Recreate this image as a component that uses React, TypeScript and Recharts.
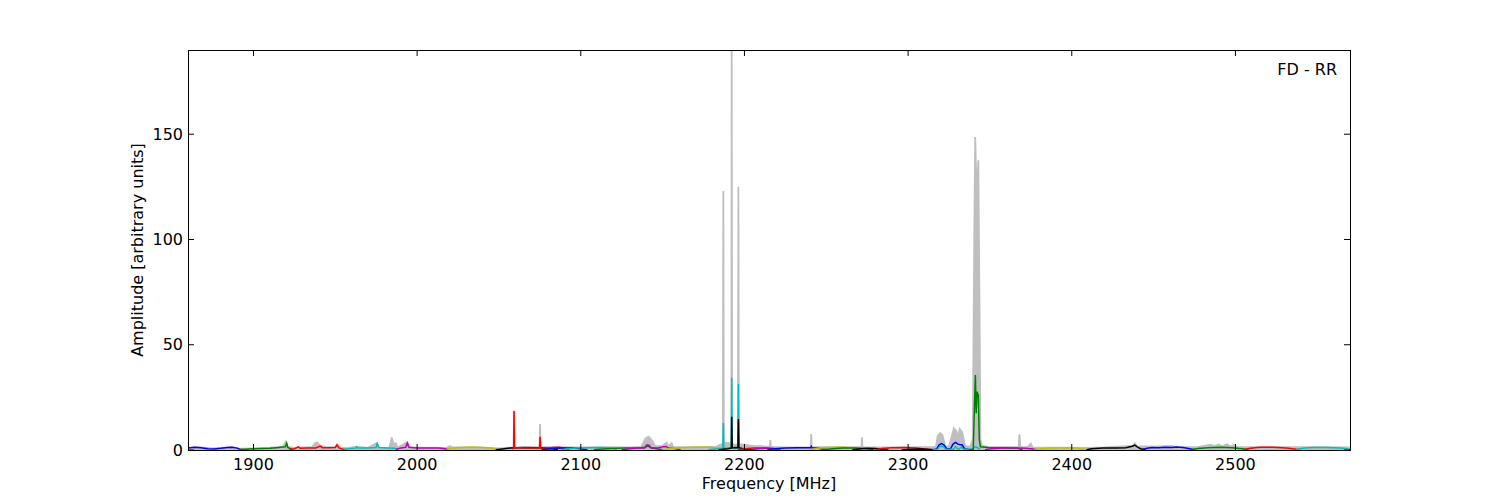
import { Area, ComposedChart, Line, XAxis, YAxis } from "recharts";

type Pt = [number, number];

// x ticks / y ticks
const X_TICKS = [1900, 2000, 2100, 2200, 2300, 2400, 2500];
const Y_TICKS = [0, 50, 100, 150];

// max-hold envelope (grey)
const envelope: Pt[] = [
  [1860, 1.0], [1866, 1.3], [1875, 0.8], [1886, 1.4], [1892, 0.6], [1900, 0.8], [1910, 1.1],
  [1918, 1.6], [1919.8, 4.0], [1921, 1.5], [1925, 1.0], [1930, 1.2], [1936, 1.5], [1937.5, 3.2],
  [1939, 3.6], [1940.5, 2.2], [1945, 1.3], [1950, 1.5], [1951.3, 2.6], [1953, 1.2], [1957, 0.9],
  [1963, 1.6], [1970, 1.0], [1975.5, 3.3], [1977, 1.1], [1983, 1.0], [1984.5, 6.0], [1985.5, 3.0],
  [1987, 3.2], [1988, 1.0], [1994, 3.8], [1995.5, 1.2], [2005, 1.1], [2018, 1.0], [2020, 1.8],
  [2022, 1.2], [2035, 1.3], [2050, 0.8], [2058.9, 1.2], [2059.2, 18.8], [2059.6, 1.4], [2070, 1.2],
  [2074.7, 1.3], [2075.1, 12.3], [2075.6, 1.3], [2085, 1.4], [2100, 1.2], [2115, 1.3], [2130, 1.2],
  [2137, 1.5], [2139.5, 5.5], [2141.5, 6.3], [2143.5, 4.5], [2145.5, 1.8], [2150, 2.0], [2152.5, 3.5],
  [2153.5, 1.8], [2155.5, 3.2], [2156.5, 1.5], [2170, 1.3], [2183, 1.6], [2185, 2.5], [2186.8, 2.8],
  [2187.1, 123], [2187.4, 3.0], [2189.5, 3.5], [2192.0, 3.0], [2192.2, 200], [2192.5, 3.0],
  [2194, 2.5], [2196.0, 2.6], [2196.3, 125], [2196.6, 2.8], [2199, 2.5], [2205, 2.0], [2210, 1.8],
  [2215.5, 1.5], [2215.8, 4.7], [2216.1, 1.5], [2225, 1.2], [2240.5, 1.3], [2240.8, 7.6], [2241.1, 1.3],
  [2255, 1.3], [2271.5, 1.3], [2271.8, 6.0], [2272.1, 1.3], [2290, 1.2], [2311, 1.4], [2317, 1.5],
  [2318, 6.5], [2319.5, 8.0], [2321, 7.0], [2322.6, 1.8], [2325, 1.5], [2326.5, 6.0], [2328, 10.4],
  [2329.5, 9.0], [2330.5, 6.0], [2331.5, 10.0], [2333, 8.5], [2334.8, 2.0], [2338, 1.5],
  [2339.5, 5.0], [2340.4, 100], [2341.0, 148.7], [2341.9, 120], [2342.9, 137.6], [2343.7, 60],
  [2344.2, 5.0], [2345, 2.0], [2350, 1.3], [2367.5, 1.3], [2368, 7.5], [2368.6, 1.5], [2373, 1.4],
  [2375, 3.0], [2376, 1.2], [2390, 1.1], [2410, 1.0], [2420, 1.2], [2437, 2.0], [2438.5, 3.2],
  [2440, 1.8], [2450, 1.6], [2461, 2.0], [2463, 1.5], [2476, 1.3], [2485, 2.5], [2487, 1.8],
  [2490, 2.6], [2492, 1.7], [2495, 2.7], [2497, 1.6], [2499, 2.4], [2501, 1.4], [2520, 1.4],
  [2550, 1.3], [2570, 1.2],
];

// one trace per sub-band
const blueA: Pt[] = [[1860, 1.0], [1864, 1.3], [1868, 1.1], [1872, 0.6], [1876, 0.5], [1880, 0.8], [1884, 1.2], [1887, 1.3], [1890, 0.9], [1892, 0.3]];
const greenA: Pt[] = [[1891, 0.2], [1895, 0.4], [1900, 0.6], [1905, 0.7], [1910, 0.8], [1914, 1.1], [1918, 1.4], [1919.5, 1.5], [1920.3, 3.2], [1921, 1.2], [1922.5, 0.6], [1924, 0.2]];
const redA: Pt[] = [[1922, 0.2], [1925, 0.6], [1927.5, 1.5], [1928.5, 0.8], [1933, 0.9], [1938, 1.0], [1940.8, 1.9], [1942, 1.1], [1946, 1.1], [1950, 1.2], [1951, 2.4], [1952.3, 1.0], [1954, 0.5], [1956, 0.2]];
const cyanA: Pt[] = [[1955, 0.2], [1958, 0.6], [1962.5, 0.9], [1963, 1.5], [1963.8, 0.9], [1970, 0.9], [1975, 1.2], [1975.6, 3.0], [1976.5, 1.2], [1982, 1.0], [1986, 0.8], [1988, 0.3]];
const magentaA: Pt[] = [[1987, 0.3], [1990, 0.9], [1993, 1.3], [1994, 3.3], [1995, 1.3], [2000, 1.0], [2007, 1.0], [2013, 0.9], [2017, 0.6], [2019, 0.2]];
const yellowA: Pt[] = [[2018, 0.3], [2020, 0.8], [2025, 1.1], [2032, 1.3], [2040, 1.2], [2046, 0.8], [2050, 0.3]];
const blackA: Pt[] = [[2048, 0.1], [2052, 0.5], [2057, 1.0], [2065, 1.2], [2075, 1.1], [2082, 0.7], [2086, 0.2]];
const redB: Pt[] = [[2058, 0.4], [2059.0, 0.9], [2059.2, 18.5], [2059.5, 1.2], [2063, 1.1], [2068, 0.9], [2074.8, 0.9], [2075.1, 6.3], [2075.5, 1.0], [2079, 0.8], [2083, 1.2], [2087, 1.3], [2090, 0.8], [2093, 0.2]];
const blueB: Pt[] = [[2076, 0.1], [2080, 0.5], [2085, 0.8], [2090, 1.0], [2095, 0.9], [2100, 0.6], [2104, 0.1]];
const cyanB: Pt[] = [[2088, 0.1], [2092, 0.6], [2098, 1.0], [2105, 1.1], [2112, 1.2], [2118, 0.9], [2122, 0.3]];
const greenB: Pt[] = [[2108, 0.1], [2114, 0.5], [2120, 0.8], [2128, 0.9], [2135, 1.0], [2139.5, 1.3], [2141, 2.0], [2142.5, 1.2], [2146, 0.6], [2150, 0.1]];
const magentaB: Pt[] = [[2125, 0.1], [2130, 0.6], [2135, 0.9], [2139, 1.0], [2140, 2.2], [2141, 2.5], [2142, 2.1], [2143, 1.0], [2147, 1.0], [2150.5, 1.6], [2152, 1.7], [2153.5, 1.0], [2157, 0.7], [2161, 0.1]];
const yellowB: Pt[] = [[2150, 0.1], [2155, 0.7], [2162, 1.1], [2170, 1.3], [2178, 1.3], [2184, 1.0], [2188, 0.3]];
const cyanC: Pt[] = [[2178, 0.1], [2182, 0.5], [2186.8, 0.8], [2187.1, 12.8], [2187.4, 0.8], [2190, 0.9], [2192.0, 1.0], [2192.2, 34.3], [2192.5, 1.0], [2194, 1.0], [2196.0, 1.0], [2196.3, 31.3], [2196.6, 1.0], [2199, 0.7], [2203, 0.2]];
const blackB: Pt[] = [[2184, 0.0], [2187, 0.3], [2190, 0.6], [2192.0, 0.9], [2192.2, 15.8], [2192.5, 1.0], [2194, 1.2], [2196.0, 1.1], [2196.3, 14.7], [2196.6, 1.1], [2199, 0.6], [2203, 0.2], [2207, 0.0]];
const redC: Pt[] = [[2196, 0.1], [2200, 0.6], [2206, 1.0], [2212, 1.0], [2218, 0.6], [2222, 0.1]];
const magentaC: Pt[] = [[2204, 0.1], [2208, 0.6], [2213, 0.9], [2218, 0.7], [2222, 0.1]];
const blueC: Pt[] = [[2214, 0.1], [2218, 0.6], [2225, 1.0], [2232, 1.1], [2240.5, 1.1], [2240.8, 1.6], [2241.1, 1.1], [2245, 0.8], [2250, 0.2]];
const yellowC: Pt[] = [[2240, 0.1], [2245, 0.8], [2252, 1.2], [2260, 1.3], [2266, 0.8], [2270, 0.2]];
const greenC: Pt[] = [[2248, 0.1], [2254, 0.6], [2260, 0.9], [2268, 1.0], [2274, 0.7], [2279, 0.1]];
const blackC: Pt[] = [[2266, 0.1], [2270, 0.5], [2275, 0.8], [2280, 0.7], [2285, 0.2], [2288, 0.0]];
const redD: Pt[] = [[2280, 0.1], [2284, 0.7], [2290, 1.1], [2298, 1.2], [2305, 1.0], [2310, 0.5], [2314, 0.1]];
const blackD: Pt[] = [[2296, 0.0], [2302, 0.4], [2308, 0.5], [2314, 0.2], [2317, 0.0]];
const blueD: Pt[] = [[2315, 0.1], [2317.5, 0.5], [2319, 2.5], [2320.5, 3.0], [2322, 2.3], [2323.5, 0.6], [2326, 0.7], [2327.5, 2.8], [2329, 3.6], [2330.5, 2.8], [2331.5, 2.6], [2333, 2.5], [2334.5, 0.6], [2337, 0.2]];
const cyanD: Pt[] = [[2315, 0.2], [2318, 0.4], [2319.2, 1.5], [2320.5, 1.8], [2321.8, 1.4], [2323, 0.3], [2327.8, 0.4], [2329, 1.6], [2330.2, 0.5], [2331.2, 0.5], [2332.5, 1.5], [2333.7, 0.4], [2337, 0.3], [2339, 0.2], [2340.5, 1.2], [2341.5, 1.5], [2342.5, 1.0], [2344, 0.2]];
const greenD: Pt[] = [[2337, 0.1], [2339.8, 0.3], [2340.5, 20], [2341.1, 35.6], [2341.6, 17.5], [2342.1, 27.7], [2342.9, 26], [2343.5, 5.0], [2344.2, 1.5], [2349, 1.2], [2356, 1.1], [2363, 1.0], [2367, 0.8], [2370, 0.1]];
const magentaD: Pt[] = [[2347, 0.1], [2351, 0.6], [2358, 0.9], [2366, 1.0], [2372, 0.8], [2376, 0.5], [2379, 0.1]];
const yellowD: Pt[] = [[2377, 0.1], [2381, 0.6], [2388, 0.9], [2396, 1.0], [2403, 0.9], [2407, 0.5], [2410, 0.1]];
const blackE: Pt[] = [[2409, 0.1], [2412, 0.6], [2419, 0.9], [2427, 0.9], [2433, 1.1], [2437, 1.8], [2438.5, 2.3], [2440, 1.5], [2442, 0.6], [2445, 0.1]];
const blueE: Pt[] = [[2443, 0.1], [2446, 0.8], [2449, 1.2], [2453, 1.1], [2457, 1.3], [2461, 1.2], [2464, 1.4], [2468, 1.2], [2472, 0.6], [2475, 0.1]];
const greenE: Pt[] = [[2473, 0.1], [2477, 0.7], [2483, 1.1], [2491, 1.3], [2498, 1.1], [2504, 0.6], [2508, 0.1]];
const redE: Pt[] = [[2505, 0.1], [2509, 0.8], [2515, 1.3], [2523, 1.3], [2531, 1.0], [2536, 0.5], [2539, 0.1]];
const cyanE: Pt[] = [[2537, 0.1], [2541, 0.8], [2547, 1.2], [2556, 1.2], [2564, 1.0], [2568, 0.6], [2570, 0.3]];

const C = {
  b: "#0000ff",
  g: "#008000",
  r: "#ff0000",
  c: "#00bfbf",
  m: "#bf00bf",
  y: "#bfbf00",
  k: "#000000",
};

// draw order = list order
const TRACES: [string, Pt[], string][] = [
  ["blueA", blueA, C.b], ["greenA", greenA, C.g], ["redA", redA, C.r], ["cyanA", cyanA, C.c],
  ["magentaA", magentaA, C.m], ["yellowA", yellowA, C.y], ["blackA", blackA, C.k], ["redB", redB, C.r],
  ["blueB", blueB, C.b], ["cyanB", cyanB, C.c], ["greenB", greenB, C.g], ["magentaB", magentaB, C.m],
  ["yellowB", yellowB, C.y], ["cyanC", cyanC, C.c], ["blackB", blackB, C.k], ["redC", redC, C.r],
  ["magentaC", magentaC, C.m], ["blueC", blueC, C.b], ["yellowC", yellowC, C.y], ["greenC", greenC, C.g],
  ["blackC", blackC, C.k], ["redD", redD, C.r], ["blackD", blackD, C.k], ["blueD", blueD, C.b],
  ["cyanD", cyanD, C.c], ["greenD", greenD, C.g], ["magentaD", magentaD, C.m], ["yellowD", yellowD, C.y],
  ["blackE", blackE, C.k], ["blueE", blueE, C.b], ["greenE", greenE, C.g], ["redE", redE, C.r],
  ["cyanE", cyanE, C.c],
];

const toRows = (pts: Pt[]) => pts.map(([f, a]) => ({ f, a }));

const W = 1500;
const H = 500;
const PLOT = { left: 188, right: 1350, top: 50, bottom: 450 };
const FONT = "'DejaVu Sans', sans-serif";
const FS = 16;
const TICK = 6;

function XTick(props: any) {
  const { x, payload } = props;
  return (
    <g>
      <line x1={x} x2={x} y1={PLOT.bottom} y2={PLOT.bottom - TICK} stroke="#000" />
      <line x1={x} x2={x} y1={PLOT.top} y2={PLOT.top + TICK} stroke="#000" />
      <text x={x} y={PLOT.bottom + 20} textAnchor="middle" fontFamily={FONT} fontSize={FS} fill="#000">
        {payload.value}
      </text>
    </g>
  );
}

function YTick(props: any) {
  const { y, payload } = props;
  return (
    <g>
      <line x1={PLOT.left} x2={PLOT.left + TICK} y1={y} y2={y} stroke="#000" />
      <line x1={PLOT.right} x2={PLOT.right - TICK} y1={y} y2={y} stroke="#000" />
      <text x={PLOT.left - 5} y={y} textAnchor="end" dominantBaseline="central" fontFamily={FONT} fontSize={FS} fill="#000">
        {payload.value}
      </text>
    </g>
  );
}

export default function App() {
  return (
    <div style={{ position: "absolute", left: 0, top: 0, width: W, height: H, background: "#fff" }}>
      <ComposedChart
        width={W}
        height={H}
        margin={{ top: PLOT.top, right: W - PLOT.right, bottom: 0, left: 0 }}
      >
        <XAxis
          dataKey="f"
          type="number"
          domain={[1860, 2570]}
          allowDataOverflow
          ticks={X_TICKS}
          height={H - PLOT.bottom}
          axisLine={false}
          tickLine={false}
          tick={<XTick />}
          interval={0}
        />
        <YAxis
          type="number"
          domain={[0, 190]}
          allowDataOverflow
          ticks={Y_TICKS}
          width={PLOT.left}
          axisLine={false}
          tickLine={false}
          tick={<YTick />}
          interval={0}
        />
        <Area
          data={toRows(envelope)}
          dataKey="a"
          type="linear"
          stroke="#bfbfbf"
          strokeWidth={1.8}
          fill="#bfbfbf"
          fillOpacity={1}
          baseValue={0}
          isAnimationActive={false}
        />
        {TRACES.map(([name, pts, color]) => (
          <Line
            key={name}
            name={name}
            data={toRows(pts)}
            dataKey="a"
            type="linear"
            stroke={color}
            strokeWidth={1.5}
            dot={false}
            activeDot={false}
            isAnimationActive={false}
          />
        ))}
      </ComposedChart>
      <svg width={W} height={H} style={{ position: "absolute", left: 0, top: 0, pointerEvents: "none" }}>
        <rect
          x={PLOT.left + 0.5}
          y={PLOT.top + 0.5}
          width={PLOT.right - PLOT.left}
          height={PLOT.bottom - PLOT.top}
          fill="none"
          stroke="#000"
        />
        <text x={(PLOT.left + PLOT.right) / 2} y={489} textAnchor="middle" fontFamily={FONT} fontSize={FS}>
          Frequency [MHz]
        </text>
        <text
          x={143}
          y={250}
          textAnchor="middle"
          fontFamily={FONT}
          fontSize={FS}
          transform="rotate(-90 143 250)"
        >
          Amplitude [arbitrary units]
        </text>
        <text x={1337} y={75} textAnchor="end" fontFamily={FONT} fontSize={FS}>
          FD - RR
        </text>
      </svg>
    </div>
  );
}
